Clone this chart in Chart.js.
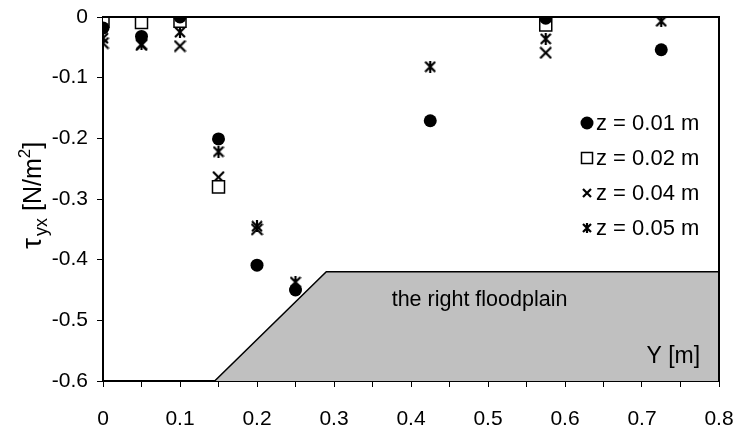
<!DOCTYPE html>
<html><head><meta charset="utf-8">
<script src="https://cdn.jsdelivr.net/npm/chart.js@4.4.0/dist/chart.umd.min.js"></script>
<style>html,body{margin:0;padding:0;background:#fff}#wrap{width:737px;height:432px;position:relative}</style>
</head><body><div id="wrap"><canvas id="c" width="737" height="432"></canvas></div>
<script>
// ---- data ----
const positions = [0, 0.05, 0.1, 0.15, 0.2, 0.25, 0.425, 0.575, 0.725];
const z001 = [-0.018, -0.032, 0.0, -0.201, -0.409, -0.450, -0.171, -0.002, -0.054];
const z002 = [-0.007, -0.009, -0.007, -0.280, null, null, null, -0.013, null];
const z004 = [-0.043, -0.046, -0.048, -0.264, -0.350, null, null, -0.059, null];
const z005 = [-0.035, -0.045, -0.025, -0.222, -0.345, -0.437, -0.082, -0.036, -0.007];
const seriesLabels = ['z = 0.01 m', 'z = 0.02 m', 'z = 0.04 m', 'z = 0.05 m'];
const floodplainX = [0.145, 0.29, 0.8];
const floodplainY = [-0.6, -0.42, -0.42];
const floodplainLabel = 'the right floodplain';
const xAxisLabel = 'Y [m]';
const xRange = [0, 0.8];
const yRange = [-0.6, 0];

const FONT = "'Liberation Sans', Arial, sans-serif";

function mk(vals){ return positions.map((x,i)=> vals[i]===null ? null : {x:x, y:vals[i]}).filter(p=>p); }

function markerCanvas(kind, s, lw){
  const c = document.createElement('canvas'); c.width = s; c.height = s;
  const g = c.getContext('2d'); g.strokeStyle = '#000'; g.lineWidth = lw; g.lineCap='butt';
  const m = 1;
  g.beginPath();
  g.moveTo(m, m); g.lineTo(s-m, s-m);
  g.moveTo(s-m, m); g.lineTo(m, s-m);
  if (kind === 'ast'){ g.moveTo(s/2, 0); g.lineTo(s/2, s); }
  g.stroke();
  return c;
}
const xImg = markerCanvas('x', 13, 2.2);
const astImg = markerCanvas('ast', 12, 2.2);
const xImgS = markerCanvas('x', 10, 2.2);
const astImgS = markerCanvas('ast', 10, 2.2);

const overlay = {
  id: 'overlay',
  afterDatasetsDraw(chart){
    const {ctx, chartArea:a, scales:{x, y}} = chart;
    ctx.save();
    ctx.strokeStyle = '#000'; ctx.lineWidth = 2;
    ctx.beginPath();
    ctx.moveTo(a.left, a.top); ctx.lineTo(a.right, a.top); ctx.lineTo(a.right, a.bottom);
    ctx.stroke();
    ctx.fillStyle = '#000';
    ctx.font = '21.5px ' + FONT;
    ctx.textAlign = 'center'; ctx.textBaseline = 'middle';
    ctx.fillText(floodplainLabel, x.getPixelForValue(0.489), y.getPixelForValue(-0.466));
    ctx.font = '23px ' + FONT;
    ctx.textAlign = 'right';
    ctx.fillText(xAxisLabel, x.getPixelForValue(0.7755), y.getPixelForValue(-0.56));
    const lx = 587, ly0 = 123, dy = 35;
    ctx.textAlign = 'left';
    ctx.font = '22px ' + FONT;
    for (let i=0;i<4;i++){
      const yy = ly0 + i*dy;
      if (i===0){ ctx.beginPath(); ctx.arc(lx, yy, 6.5, 0, Math.PI*2); ctx.fill(); }
      else if (i===1){ ctx.lineWidth=1.5; ctx.strokeStyle='#000'; ctx.fillStyle='#fff'; ctx.fillRect(lx-5.5, yy-5.5, 11, 11); ctx.strokeRect(lx-5.5, yy-5.5, 11, 11); ctx.fillStyle='#000'; }
      else if (i===2){ ctx.drawImage(xImgS, lx-5, yy-5); }
      else { ctx.drawImage(astImgS, lx-5, yy-5); }
      ctx.fillText(seriesLabels[i], lx+9, yy+1);
    }
    ctx.translate(41, 249);
    ctx.rotate(-Math.PI/2);
    ctx.textAlign = 'left'; ctx.textBaseline = 'alphabetic';
    let px = 0;
    const put = (t, size, dyy) => { ctx.font = size + 'px ' + FONT; ctx.fillText(t, px, dyy); px += ctx.measureText(t).width; };
    put('\u03C4', 28, 0);
    px += 2;
    put('yx', 18, 6);
    put(' [N/m', 25, 0);
    put('2', 17, -11);
    put(']', 25, 0);
    ctx.restore();
  }
};

new Chart(document.getElementById('c'), {
  type: 'scatter',
  data: {
    datasets: [
      {label: seriesLabels[0], data: mk(z001), pointStyle:'circle', pointRadius:6.5, pointBorderWidth:0, backgroundColor:'#000', borderColor:'#000', order:1},
      {label: seriesLabels[1], data: mk(z002), pointStyle:'rect', pointRadius:8.5, pointBorderWidth:1.5, backgroundColor:'#fff', borderColor:'#000', order:1},
      {label: seriesLabels[2], data: mk(z004), pointStyle:xImg, pointRadius:6, order:1},
      {label: seriesLabels[3], data: mk(z005), pointStyle:astImg, pointRadius:6, order:1},
      {type:'line', label:'floodplain', data: floodplainX.map((v,i)=>({x:v, y:floodplainY[i]})), borderColor:'#000', borderWidth:1.5, backgroundColor:'#c0c0c0', fill:'start', pointRadius:0, tension:0, order:10}
    ]
  },
  options: {
    responsive: false, animation: false,
    devicePixelRatio: 1,
    layout: {padding: {left:0, right:18, top:17, bottom:0}},
    plugins: {legend:{display:false}, tooltip:{enabled:false}},
    scales: {
      x: {
        type:'linear', min:xRange[0], max:xRange[1],
        afterFit(s){ s.height = 51; s.paddingRight = 0; s.paddingLeft = 0; },
        border:{display:true, color:'#000', width:2},
        grid:{drawOnChartArea:false, drawTicks:true, tickLength:6, color:'#000'},
        ticks:{stepSize:0.05, autoSkip:false, maxRotation:0, color:'#000', padding:20, font:{family:FONT, size:21},
          callback:(v)=>{ const k=Math.round(v*100); if (k%10!==0) return ''; return k===0?'0':(k/100).toFixed(1);} }
      },
      y: {
        type:'linear', min:yRange[0], max:yRange[1],
        afterFit(s){ s.width = 103; s.paddingTop = 0; s.paddingBottom = 0; },
        border:{display:true, color:'#000', width:2},
        grid:{drawOnChartArea:false, drawTicks:true, tickLength:6, color:'#000'},
        ticks:{stepSize:0.1, color:'#000', padding:9, font:{family:FONT, size:21},
          callback:(v)=>{ const k=Math.round(v*10); return k===0?'0':(k/10).toFixed(1);} }
      }
    }
  },
  plugins:[overlay]
});
</script>
</body></html>
